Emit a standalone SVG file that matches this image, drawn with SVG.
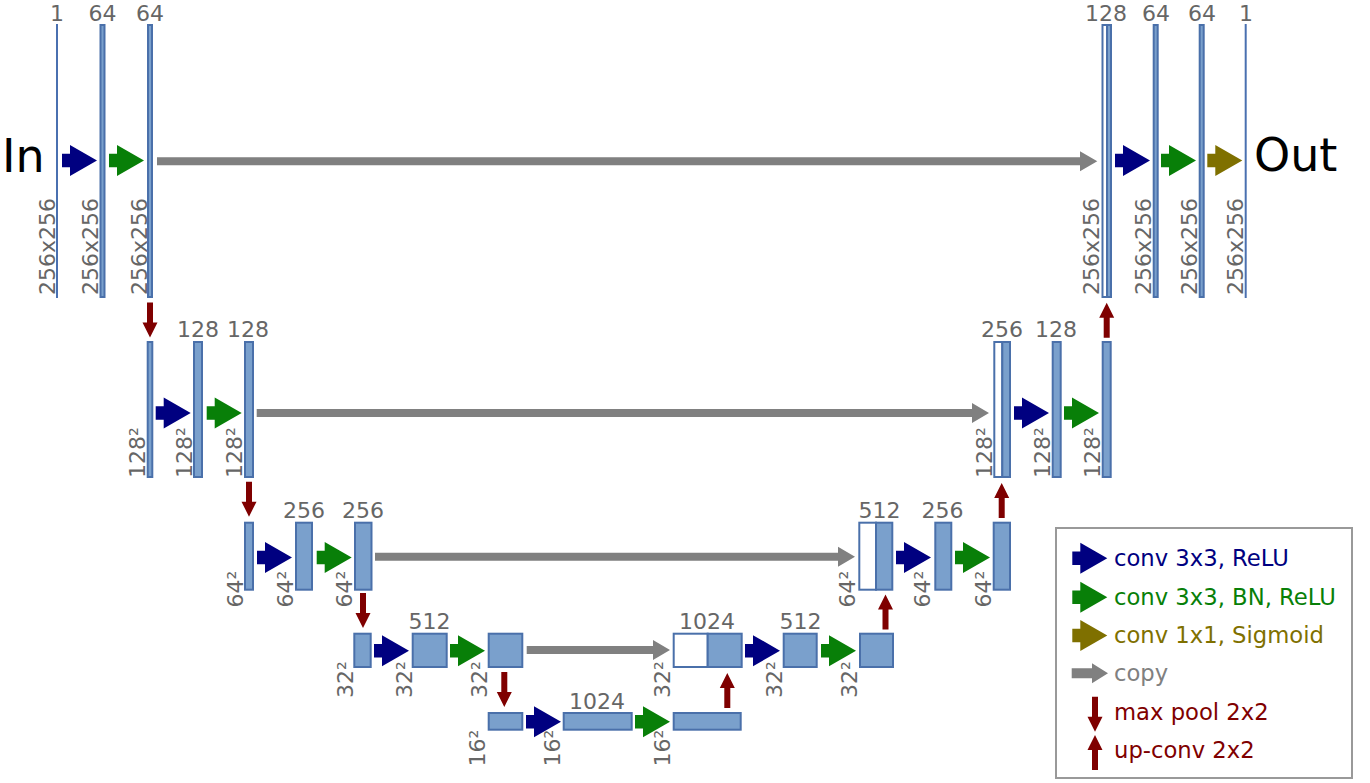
<svg xmlns="http://www.w3.org/2000/svg" xmlns:xlink="http://www.w3.org/1999/xlink" width="1370" height="783" viewBox="0 0 1370 783">
<defs>
<style>
.bar{fill:#7aa0cc;stroke:#4a70aa;stroke-width:2}
.cat{fill:#ffffff;stroke:#4a70aa;stroke-width:2}
.thin{stroke:#4a70b0;stroke-width:2}
.lbl{font-family:"DejaVu Sans","Liberation Sans",sans-serif;font-size:22px;fill:#666666}
.top{text-anchor:middle}
.big{font-family:"DejaVu Sans","Liberation Sans",sans-serif;font-size:46px;fill:#000000}
.leg{font-family:"DejaVu Sans","Liberation Sans",sans-serif;font-size:22.7px}
.blue{fill:#000080}
.green{fill:#087f08}
.olive{fill:#7f7000}
.gray{fill:#808080}
.red{fill:#7f0000}
</style>
<path id="conv" d="M-35,-6.7 H-27 V-15.5 L0,0 L-27,15.5 V6.7 H-35 Z"/>
<path id="down" d="M-3,-35 H3 V-15 H7.5 L0,0 L-7.5,-15 H-3 Z"/>
<path id="up" d="M-3,35 H3 V15 H7.5 L0,0 L-7.5,15 H-3 Z"/>
</defs>
<rect width="1370" height="783" fill="#ffffff"/>

<text class="big" x="2" y="172">In</text>
<text class="big" x="1254" y="171">Out</text>

<!-- Row 1 (256x256) -->
<g id="r1-in">
<line class="thin" x1="57" y1="24" x2="57" y2="298"/>
<text class="lbl top" x="57" y="20.5">1</text>
<text class="lbl" transform="translate(55,295) rotate(-90)">256x256</text>
</g>
<g id="r1-c1">
<rect class="bar" x="100.5" y="25" width="4" height="272"/>
<text class="lbl top" x="102.5" y="20.5">64</text>
<text class="lbl" transform="translate(98,295) rotate(-90)">256x256</text>
</g>
<g id="r1-c2">
<rect class="bar" x="148" y="25" width="4" height="272"/>
<text class="lbl top" x="150" y="20.5">64</text>
<text class="lbl" transform="translate(146.5,295) rotate(-90)">256x256</text>
</g>
<g id="r1-cat">
<rect class="cat" x="1102.5" y="25" width="4.5" height="272"/>
<rect class="bar" x="1107" y="25" width="4" height="272"/>
<text class="lbl top" x="1106" y="20.5">128</text>
<text class="lbl" transform="translate(1099,295) rotate(-90)">256x256</text>
</g>
<g id="r1-d1">
<rect class="bar" x="1153.7" y="25" width="4" height="272"/>
<text class="lbl top" x="1156" y="20.5">64</text>
<text class="lbl" transform="translate(1151,295) rotate(-90)">256x256</text>
</g>
<g id="r1-d2">
<rect class="bar" x="1199.7" y="25" width="4" height="272"/>
<text class="lbl top" x="1202" y="20.5">64</text>
<text class="lbl" transform="translate(1197,295) rotate(-90)">256x256</text>
</g>
<g id="r1-out">
<line class="thin" x1="1245.7" y1="24" x2="1245.7" y2="298"/>
<text class="lbl top" x="1246" y="20.5">1</text>
<text class="lbl" transform="translate(1243.3,295) rotate(-90)">256x256</text>
</g>

<!-- Row 2 (128) -->
<g id="r2-p">
<rect class="bar" x="147.7" y="342" width="4.6" height="135"/>
<text class="lbl" transform="translate(145,478) rotate(-90)">128²</text>
</g>
<g id="r2-c1">
<rect class="bar" x="194" y="342" width="8" height="135"/>
<text class="lbl top" x="198" y="337">128</text>
<text class="lbl" transform="translate(191.5,478) rotate(-90)">128²</text>
</g>
<g id="r2-c2">
<rect class="bar" x="245" y="342" width="8" height="135"/>
<text class="lbl top" x="248" y="337">128</text>
<text class="lbl" transform="translate(241.5,478) rotate(-90)">128²</text>
</g>
<g id="r2-cat">
<rect class="cat" x="994.3" y="342" width="8" height="135"/>
<rect class="bar" x="1002.3" y="342" width="7.7" height="135"/>
<text class="lbl top" x="1002" y="337">256</text>
<text class="lbl" transform="translate(991.5,478) rotate(-90)">128²</text>
</g>
<g id="r2-d1">
<rect class="bar" x="1052.7" y="342" width="8" height="135"/>
<text class="lbl top" x="1056" y="337">128</text>
<text class="lbl" transform="translate(1050,478) rotate(-90)">128²</text>
</g>
<g id="r2-d2">
<rect class="bar" x="1102.7" y="342" width="8" height="135"/>
<text class="lbl" transform="translate(1100,478) rotate(-90)">128²</text>
</g>

<!-- Row 3 (64) -->
<g id="r3-p">
<rect class="bar" x="245" y="522.7" width="8" height="67"/>
<text class="lbl" transform="translate(242.5,607.5) rotate(-90)">64²</text>
</g>
<g id="r3-c1">
<rect class="bar" x="296" y="522.7" width="16" height="67"/>
<text class="lbl top" x="304" y="518">256</text>
<text class="lbl" transform="translate(292.5,607.5) rotate(-90)">64²</text>
</g>
<g id="r3-c2">
<rect class="bar" x="355" y="522.7" width="16.5" height="67"/>
<text class="lbl top" x="363" y="518">256</text>
<text class="lbl" transform="translate(351.5,607.5) rotate(-90)">64²</text>
</g>
<g id="r3-cat">
<rect class="cat" x="859.3" y="522.7" width="16.7" height="67"/>
<rect class="bar" x="876" y="522.7" width="16.3" height="67"/>
<text class="lbl top" x="879.5" y="518">512</text>
<text class="lbl" transform="translate(855,607.5) rotate(-90)">64²</text>
</g>
<g id="r3-d1">
<rect class="bar" x="935.3" y="522.7" width="16" height="67"/>
<text class="lbl top" x="942.5" y="518">256</text>
<text class="lbl" transform="translate(930,607.5) rotate(-90)">64²</text>
</g>
<g id="r3-d2">
<rect class="bar" x="993.7" y="522.7" width="16.3" height="67"/>
<text class="lbl" transform="translate(990.5,607.5) rotate(-90)">64²</text>
</g>

<!-- Row 4 (32) -->
<g id="r4-p">
<rect class="bar" x="354.3" y="633.7" width="16.4" height="33.3"/>
<text class="lbl" transform="translate(353,698) rotate(-90)">32²</text>
</g>
<g id="r4-c1">
<rect class="bar" x="412.7" y="633.7" width="34" height="33.3"/>
<text class="lbl top" x="429.5" y="628.5">512</text>
<text class="lbl" transform="translate(412,698) rotate(-90)">32²</text>
</g>
<g id="r4-c2">
<rect class="bar" x="488.7" y="633.7" width="33.6" height="33.3"/>
<text class="lbl" transform="translate(487,698) rotate(-90)">32²</text>
</g>
<g id="r4-cat">
<rect class="cat" x="673.7" y="633.7" width="34" height="33.3"/>
<rect class="bar" x="707.7" y="633.7" width="34" height="33.3"/>
<text class="lbl top" x="707" y="628.5">1024</text>
<text class="lbl" transform="translate(670,698) rotate(-90)">32²</text>
</g>
<g id="r4-d1">
<rect class="bar" x="783.7" y="633.7" width="33" height="33.3"/>
<text class="lbl top" x="800.5" y="628.5">512</text>
<text class="lbl" transform="translate(782,698) rotate(-90)">32²</text>
</g>
<g id="r4-d2">
<rect class="bar" x="860" y="633.7" width="33" height="33.3"/>
<text class="lbl" transform="translate(857,698) rotate(-90)">32²</text>
</g>

<!-- Row 5 (16) -->
<g id="r5-p">
<rect class="bar" x="488.7" y="713" width="33.6" height="16.7"/>
<text class="lbl" transform="translate(485,766.5) rotate(-90)">16²</text>
</g>
<g id="r5-c1">
<rect class="bar" x="563.7" y="713" width="68" height="16.7"/>
<text class="lbl top" x="597" y="708.5">1024</text>
<text class="lbl" transform="translate(560,766.5) rotate(-90)">16²</text>
</g>
<g id="r5-c2">
<rect class="bar" x="673.7" y="713" width="67" height="16.7"/>
<text class="lbl" transform="translate(670,766.5) rotate(-90)">16²</text>
</g>

<!-- Connectors -->
<g id="connectors">
<!-- conv 3x3 ReLU -->
<use xlink:href="#conv" href="#conv" class="blue" transform="translate(97,160.5)"/>
<use xlink:href="#conv" href="#conv" class="blue" transform="translate(1150,160.5)"/>
<use xlink:href="#conv" href="#conv" class="blue" transform="translate(190.7,413)"/>
<use xlink:href="#conv" href="#conv" class="blue" transform="translate(1049,413)"/>
<use xlink:href="#conv" href="#conv" class="blue" transform="translate(292,557.5)"/>
<use xlink:href="#conv" href="#conv" class="blue" transform="translate(931,557.5)"/>
<use xlink:href="#conv" href="#conv" class="blue" transform="translate(409,650.7)"/>
<use xlink:href="#conv" href="#conv" class="blue" transform="translate(780,650.7)"/>
<use xlink:href="#conv" href="#conv" class="blue" transform="translate(561,721.7)"/>
<!-- conv 3x3 BN ReLU -->
<use xlink:href="#conv" href="#conv" class="green" transform="translate(144,160.5)"/>
<use xlink:href="#conv" href="#conv" class="green" transform="translate(1196,160.5)"/>
<use xlink:href="#conv" href="#conv" class="green" transform="translate(241.7,413)"/>
<use xlink:href="#conv" href="#conv" class="green" transform="translate(1099,413)"/>
<use xlink:href="#conv" href="#conv" class="green" transform="translate(351.7,557.5)"/>
<use xlink:href="#conv" href="#conv" class="green" transform="translate(990,557.5)"/>
<use xlink:href="#conv" href="#conv" class="green" transform="translate(485,650.7)"/>
<use xlink:href="#conv" href="#conv" class="green" transform="translate(856,650.7)"/>
<use xlink:href="#conv" href="#conv" class="green" transform="translate(670,721.7)"/>
<!-- conv 1x1 sigmoid -->
<use xlink:href="#conv" href="#conv" class="olive" transform="translate(1242.3,160.5)"/>
<!-- copy -->
<path class="gray" d="M157,157.3 H1080 V151.3 L1097.3,161.3 L1080,171.3 V165.3 H157 Z"/>
<path class="gray" d="M256.7,409 H972 V403 L989,413 L972,423 V417 H256.7 Z"/>
<path class="gray" d="M375,552.7 H838 V546.7 L855,556.7 L838,566.7 V560.7 H375 Z"/>
<path class="gray" d="M526.7,646 H653 V640 L670,650 L653,660 V654 H526.7 Z"/>
<!-- max pool -->
<use xlink:href="#down" href="#down" class="red" transform="translate(150,337.5)"/>
<use xlink:href="#down" href="#down" class="red" transform="translate(249,516.7)"/>
<use xlink:href="#down" href="#down" class="red" transform="translate(363,628)"/>
<use xlink:href="#down" href="#down" class="red" transform="translate(504.3,707)"/>
<!-- up-conv -->
<use xlink:href="#up" href="#up" class="red" transform="translate(727.3,673)"/>
<use xlink:href="#up" href="#up" class="red" transform="translate(885.5,594.5)"/>
<use xlink:href="#up" href="#up" class="red" transform="translate(1001.7,483)"/>
<use xlink:href="#up" href="#up" class="red" transform="translate(1106.7,302.7)"/>
</g>

<!-- Legend -->
<g id="legend">
<rect x="1056" y="528" width="296" height="250" fill="#ffffff" stroke="#999999" stroke-width="2"/>
<use xlink:href="#conv" href="#conv" class="blue" transform="translate(1107.3,558.3)"/>
<text class="leg blue" x="1114" y="565.7">conv 3x3, ReLU</text>
<use xlink:href="#conv" href="#conv" class="green" transform="translate(1107.3,597.3)"/>
<text class="leg green" x="1114" y="604.5">conv 3x3, BN, ReLU</text>
<use xlink:href="#conv" href="#conv" class="olive" transform="translate(1107.3,635.5)"/>
<text class="leg olive" x="1114" y="642.8">conv 1x1, Sigmoid</text>
<path class="gray" d="M1071.7,668.3 H1092 V663.3 L1108,673.3 L1092,683.3 V678.3 H1071.7 Z"/>
<text class="leg gray" x="1114" y="681">copy</text>
<use xlink:href="#down" href="#down" class="red" transform="translate(1095,731.7)"/>
<text class="leg red" x="1114" y="719.8">max pool 2x2</text>
<use xlink:href="#up" href="#up" class="red" transform="translate(1095,735)"/>
<text class="leg red" x="1114" y="758.3">up-conv 2x2</text>
</g>
</svg>
